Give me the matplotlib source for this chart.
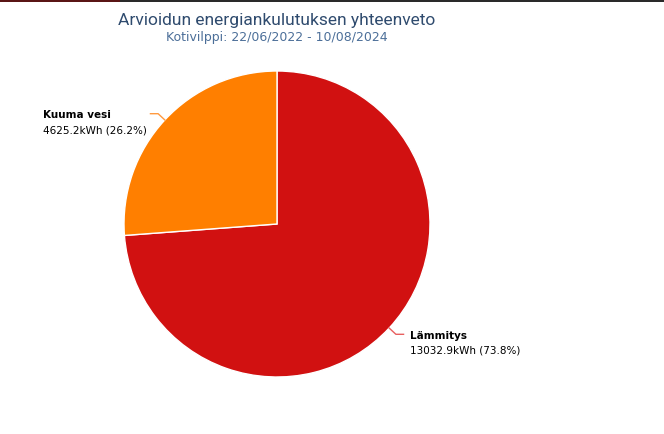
import matplotlib.pyplot as plt
import numpy as np
from matplotlib.patches import Rectangle

# data
labels = ["Lämmitys", "Kuuma vesi"]
values = [13032.9, 4625.2]
colors = ["#d11111", "#ff7f00"]
line_colors = ["#e86060", "#ff9a40"]

title = "Arvioidun energiankulutuksen yhteenveto"
subtitle = "Kotivilppi: 22/06/2022 - 10/08/2024"

W, H = 664, 434
fig = plt.figure(figsize=(W / 100, H / 100), dpi=100)
fig.patch.set_facecolor("white")

# thin dark band at the very top
fig.patches.append(Rectangle((0, 1 - 2 / H), 1, 2 / H, transform=fig.transFigure,
                             facecolor="#2a2a2a", edgecolor="none"))
fig.patches.append(Rectangle((0, 1 - 2 / H), 0.18, 2 / H, transform=fig.transFigure,
                             facecolor="#5a1515", edgecolor="none"))

cx, cy, r = 277, 224, 153
ax = fig.add_axes([(cx - r) / W, (H - cy - r) / H, 2 * r / W, 2 * r / H])

wedges, _ = ax.pie(values, colors=colors, startangle=90, counterclock=False,
                   radius=1.0, wedgeprops=dict(edgecolor="white", linewidth=1.0))
ax.set_xlim(-1, 1)
ax.set_ylim(-1, 1)
ax.axis("off")

total = sum(values)
line_gap = 15 / r
for w, lab, val, lc in zip(wedges, labels, values, line_colors):
    ang = np.deg2rad((w.theta1 + w.theta2) / 2)
    x0, y0 = np.cos(ang), np.sin(ang)
    side = np.sign(x0)
    x1, y1 = 1.06 * x0, 1.06 * y0
    x2 = x1 + side * 0.05
    ax.plot([x0, x1, x2], [y0, y1, y1], color=lc, lw=1, clip_on=False)
    pct = val / total * 100
    second = f"{val:.1f}kWh ({pct:.1f}%)"
    if side > 0:
        tx = x2 + 0.04
    else:
        tx = x2 - 0.705
    ty = y1 - 0.01
    ax.text(tx, ty, lab, ha="left", va="center", fontsize=7.5,
            fontweight="bold", color="black")
    ax.text(tx, ty - line_gap, second, ha="left", va="center", fontsize=7.5,
            color="black")

fig.text(cx / W, 1 - 20 / H, title, ha="center", va="center", fontsize=12.5,
         color="#2f4b6e", family=["Roboto", "DejaVu Sans"])
fig.text(cx / W, 1 - 38 / H, subtitle, ha="center", va="center", fontsize=9,
         color="#4c6f99")

fig.savefig("out.png", dpi=100)
